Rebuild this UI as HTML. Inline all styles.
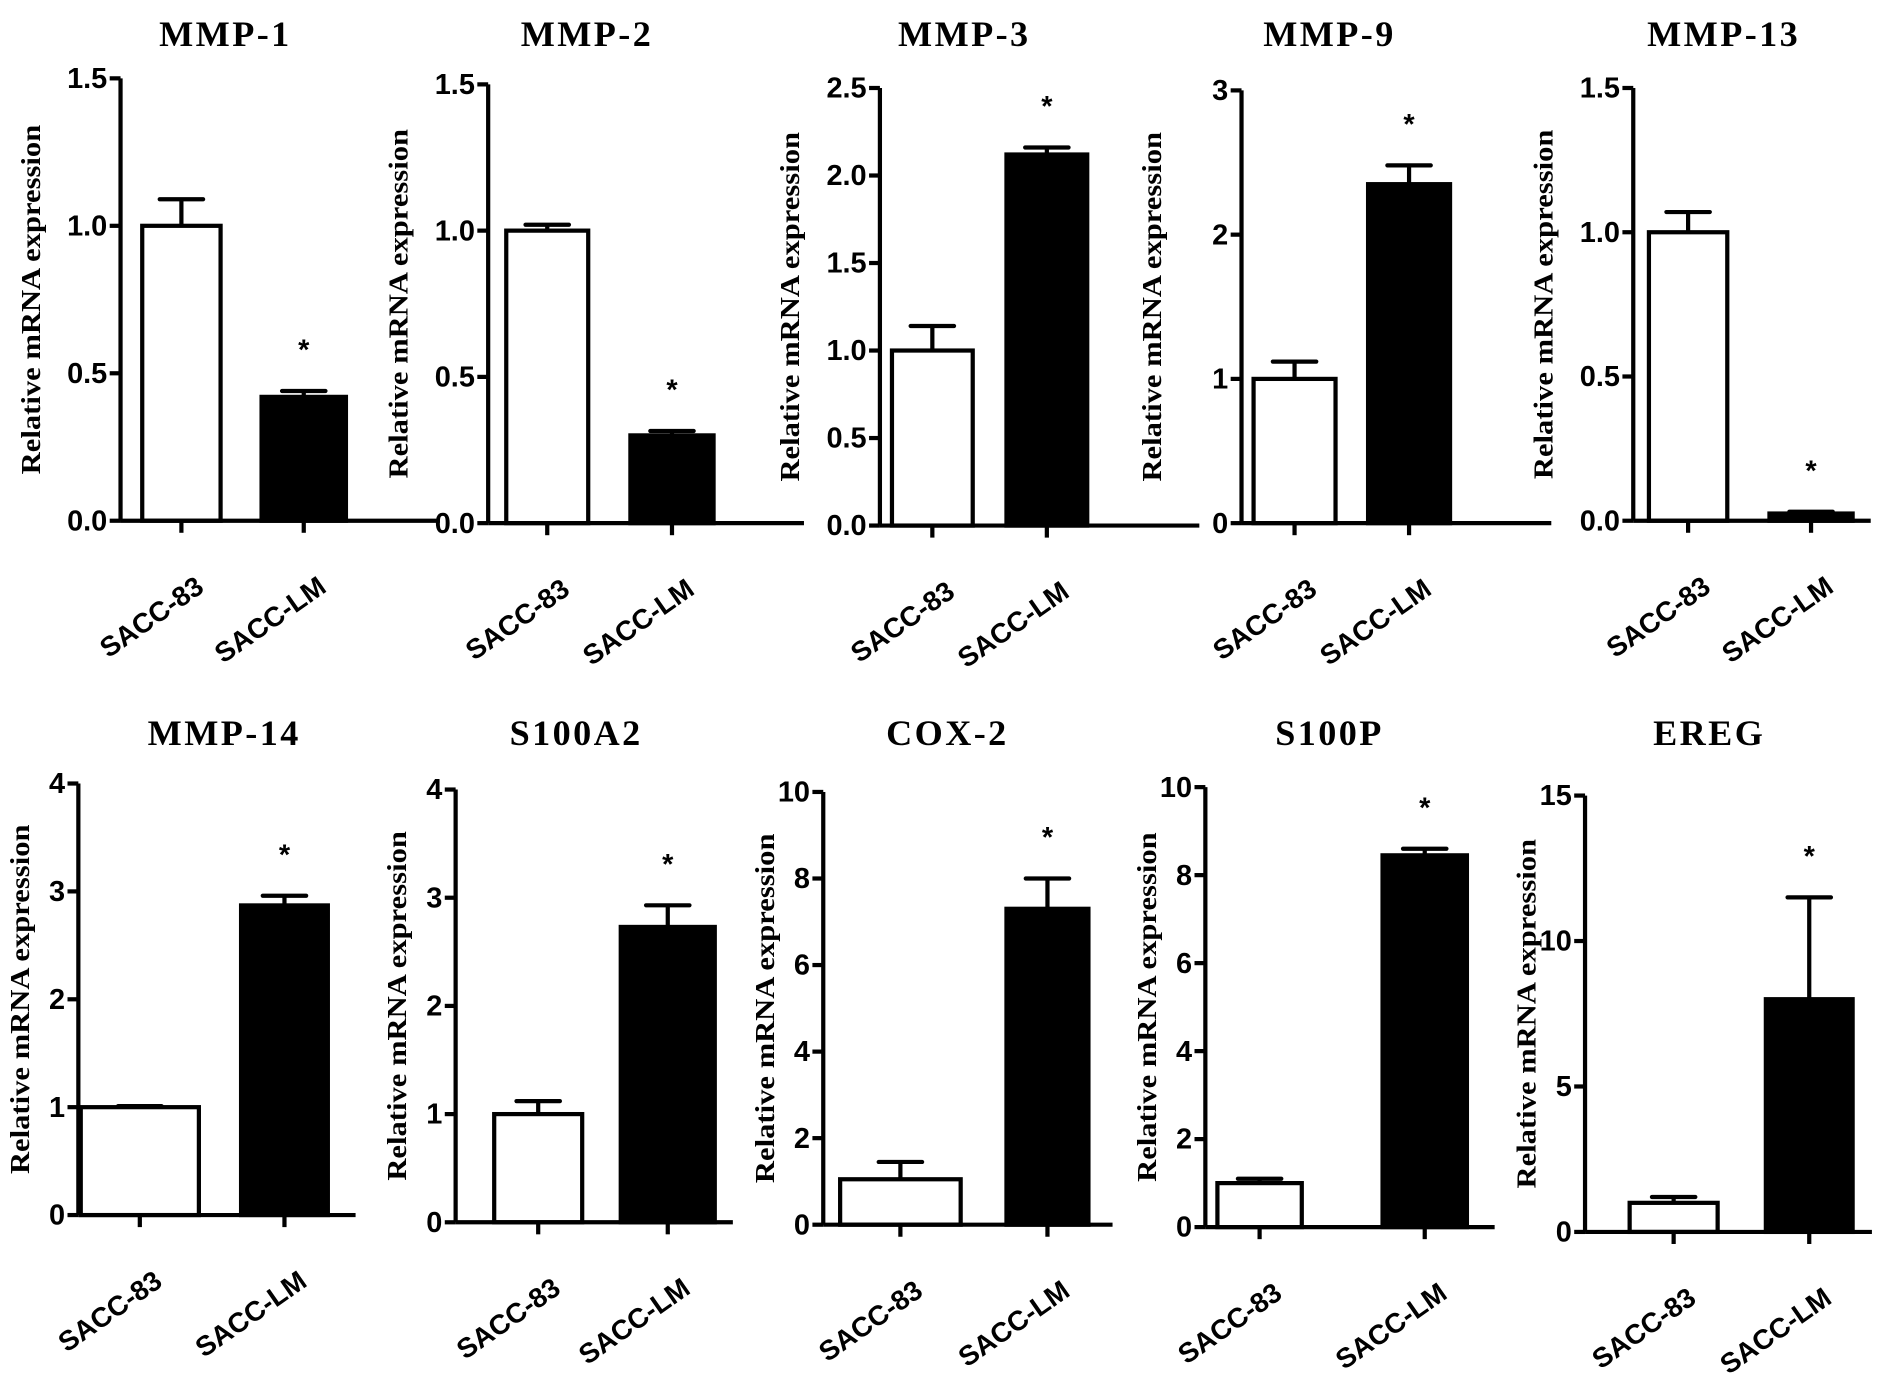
<!DOCTYPE html>
<html><head><meta charset="utf-8"><style>
html,body{margin:0;padding:0;background:#fff;}
svg{display:block;}
.tick{font-family:"Liberation Sans",Arial,sans-serif;font-weight:bold;font-size:24px;}
.ttl{font-family:"Liberation Serif",serif;font-weight:bold;font-size:30px;letter-spacing:2px;}
.yl{font-family:"Liberation Serif",serif;font-weight:bold;font-size:23px;}
.xl{font-family:"Liberation Sans",Arial,sans-serif;font-weight:bold;font-size:23px;}
</style></head><body>
<svg id="fig" width="1890" height="1399" viewBox="0 0 1568 1160.6" preserveAspectRatio="none" xmlns="http://www.w3.org/2000/svg"></svg>
<script>
const titles = ["MMP-1","MMP-2","MMP-3","MMP-9","MMP-13","MMP-14","S100A2","COX-2","S100P","EREG"];
const categories = ["SACC-83","SACC-LM"];
const ctrlValues = [1.0,1.0,1.0,1.0,1.0,1.0,1.0,1.05,1.0,1.0];
const ctrlErrors = [0.09,0.02,0.14,0.12,0.07,0.01,0.12,0.4,0.1,0.2];
const lmValues = [0.42,0.30,2.12,2.35,0.025,2.87,2.73,7.3,8.45,8.0];
const lmErrors = [0.02,0.015,0.04,0.13,0.006,0.09,0.2,0.7,0.15,3.5];
const yMax = [1.5,1.5,2.5,3,1.5,4,4,10,10,15];
const yStep = [0.5,0.5,0.5,1,0.5,1,1,2,2,5];
const yDecimals = [1,1,1,0,1,0,0,0,0,0];

// layout (display coords)
const L = [
 {ax:100,top:65,bot:432,b1:[118,183],b2:[217,287],len:265,tx:187,ty:38},
 {ax:405,top:70,bot:434,b1:[420,488],b2:[523,592],len:262,tx:487,ty:38},
 {ax:730,top:73,bot:436,b1:[740,807],b2:[835,902],len:265,tx:800,ty:38},
 {ax:1030,top:75,bot:434,b1:[1040,1108],b2:[1135,1203],len:257,tx:1103,ty:38},
 {ax:1355,top:73,bot:432,b1:[1368,1433],b2:[1468,1537],len:197,tx:1430,ty:38},
 {ax:65,top:650,bot:1008,b1:[67,165],b2:[200,272],len:230,tx:186,ty:618},
 {ax:378,top:655,bot:1014,b1:[410,483],b2:[515,593],len:230,tx:478,ty:618},
 {ax:683,top:657,bot:1016,b1:[697,797],b2:[835,903],len:240,tx:786,ty:618},
 {ax:1000,top:653,bot:1018,b1:[1010,1080],b2:[1147,1217],len:240,tx:1103,ty:618},
 {ax:1315,top:660,bot:1022,b1:[1352,1425],b2:[1465,1537],len:238,tx:1418,ty:618}
];
const NS="http://www.w3.org/2000/svg";
const svg=document.getElementById('fig');
function mk(tag,attrs,parent){const e=document.createElementNS(NS,tag);for(const k in attrs)e.setAttribute(k,attrs[k]);(parent||svg).appendChild(e);return e;}
titles.forEach((t,i)=>{
  const p=L[i];
  const g=mk('g',{});
  
  
  const y=v=>p.bot-(v/yMax[i])*(p.bot-p.top);
  const right = Math.max(p.ax+p.len, p.b2[1]+15);
  const tt=mk('text',{x:p.tx,y:p.ty,'text-anchor':'middle',class:'ttl'},g);
  tt.textContent=t;
  
  
  const yl=mk('text',{transform:`translate(${p.ax-(i<5?67:41)},${(p.top+p.bot)/2}) rotate(-90)`,'text-anchor':'middle',class:'yl',textLength:290,lengthAdjust:'spacingAndGlyphs'},g);
  yl.textContent='Relative mRNA expression';
  
  
  const vals=[ctrlValues[i],lmValues[i]],errs=[ctrlErrors[i],lmErrors[i]],bx=[p.b1,p.b2];
  for(let k=0;k<2;k++){
    const cx=(bx[k][0]+bx[k][1])/2, top=y(vals[k]), et=y(vals[k]+errs[k]);
    const el=mk('line',{x1:cx,x2:cx,y1:top,y2:et,stroke:'#000','stroke-width':3.5},g);
    
    
    const cap=mk('line',{x1:cx-18,x2:cx+18,y1:et,y2:et,stroke:'#000','stroke-width':3.5,'stroke-linecap':'round'},g);
    
    
    const r=mk('rect',{x:bx[k][0],y:top,width:bx[k][1]-bx[k][0],height:p.bot-top,fill:k?'#000':'#fff',stroke:'#000','stroke-width':3.5},g);
    
    
    const tk=mk('line',{x1:cx,x2:cx,y1:p.bot,y2:p.bot+10,stroke:'#000','stroke-width':3.5},g);
    
    
    const xl=mk('text',{transform:`translate(${cx+20},${p.bot+58}) rotate(-35)`,'text-anchor':'end',class:'xl'},g);
    xl.textContent=categories[k];
    
    
    if(k===1){
      const st=mk('text',{x:cx,y:Math.min(et-22,top-22)-4,'text-anchor':'middle',class:'tick','font-size':'28'},g);
      st.textContent='*';
      
      
    }
  }
  const ya=mk('line',{x1:p.ax,x2:p.ax,y1:p.top,y2:p.bot,stroke:'#000','stroke-width':3.5},g);
  
  
  const xa=mk('line',{x1:p.ax,x2:right,y1:p.bot,y2:p.bot,stroke:'#000','stroke-width':3.5},g);
  
  
  for(let v=0;v<=yMax[i]+1e-9;v+=yStep[i]){
    const yy=y(v);
    const tl=mk('line',{x1:p.ax-9,x2:p.ax,y1:yy,y2:yy,stroke:'#000','stroke-width':3.5},g);
    
    
    const tx=mk('text',{x:p.ax-11,y:yy+8,'text-anchor':'end',class:'tick'},g);
    tx.textContent=v.toFixed(yDecimals[i]);
    
    
  }
});
</script>
</body></html>
